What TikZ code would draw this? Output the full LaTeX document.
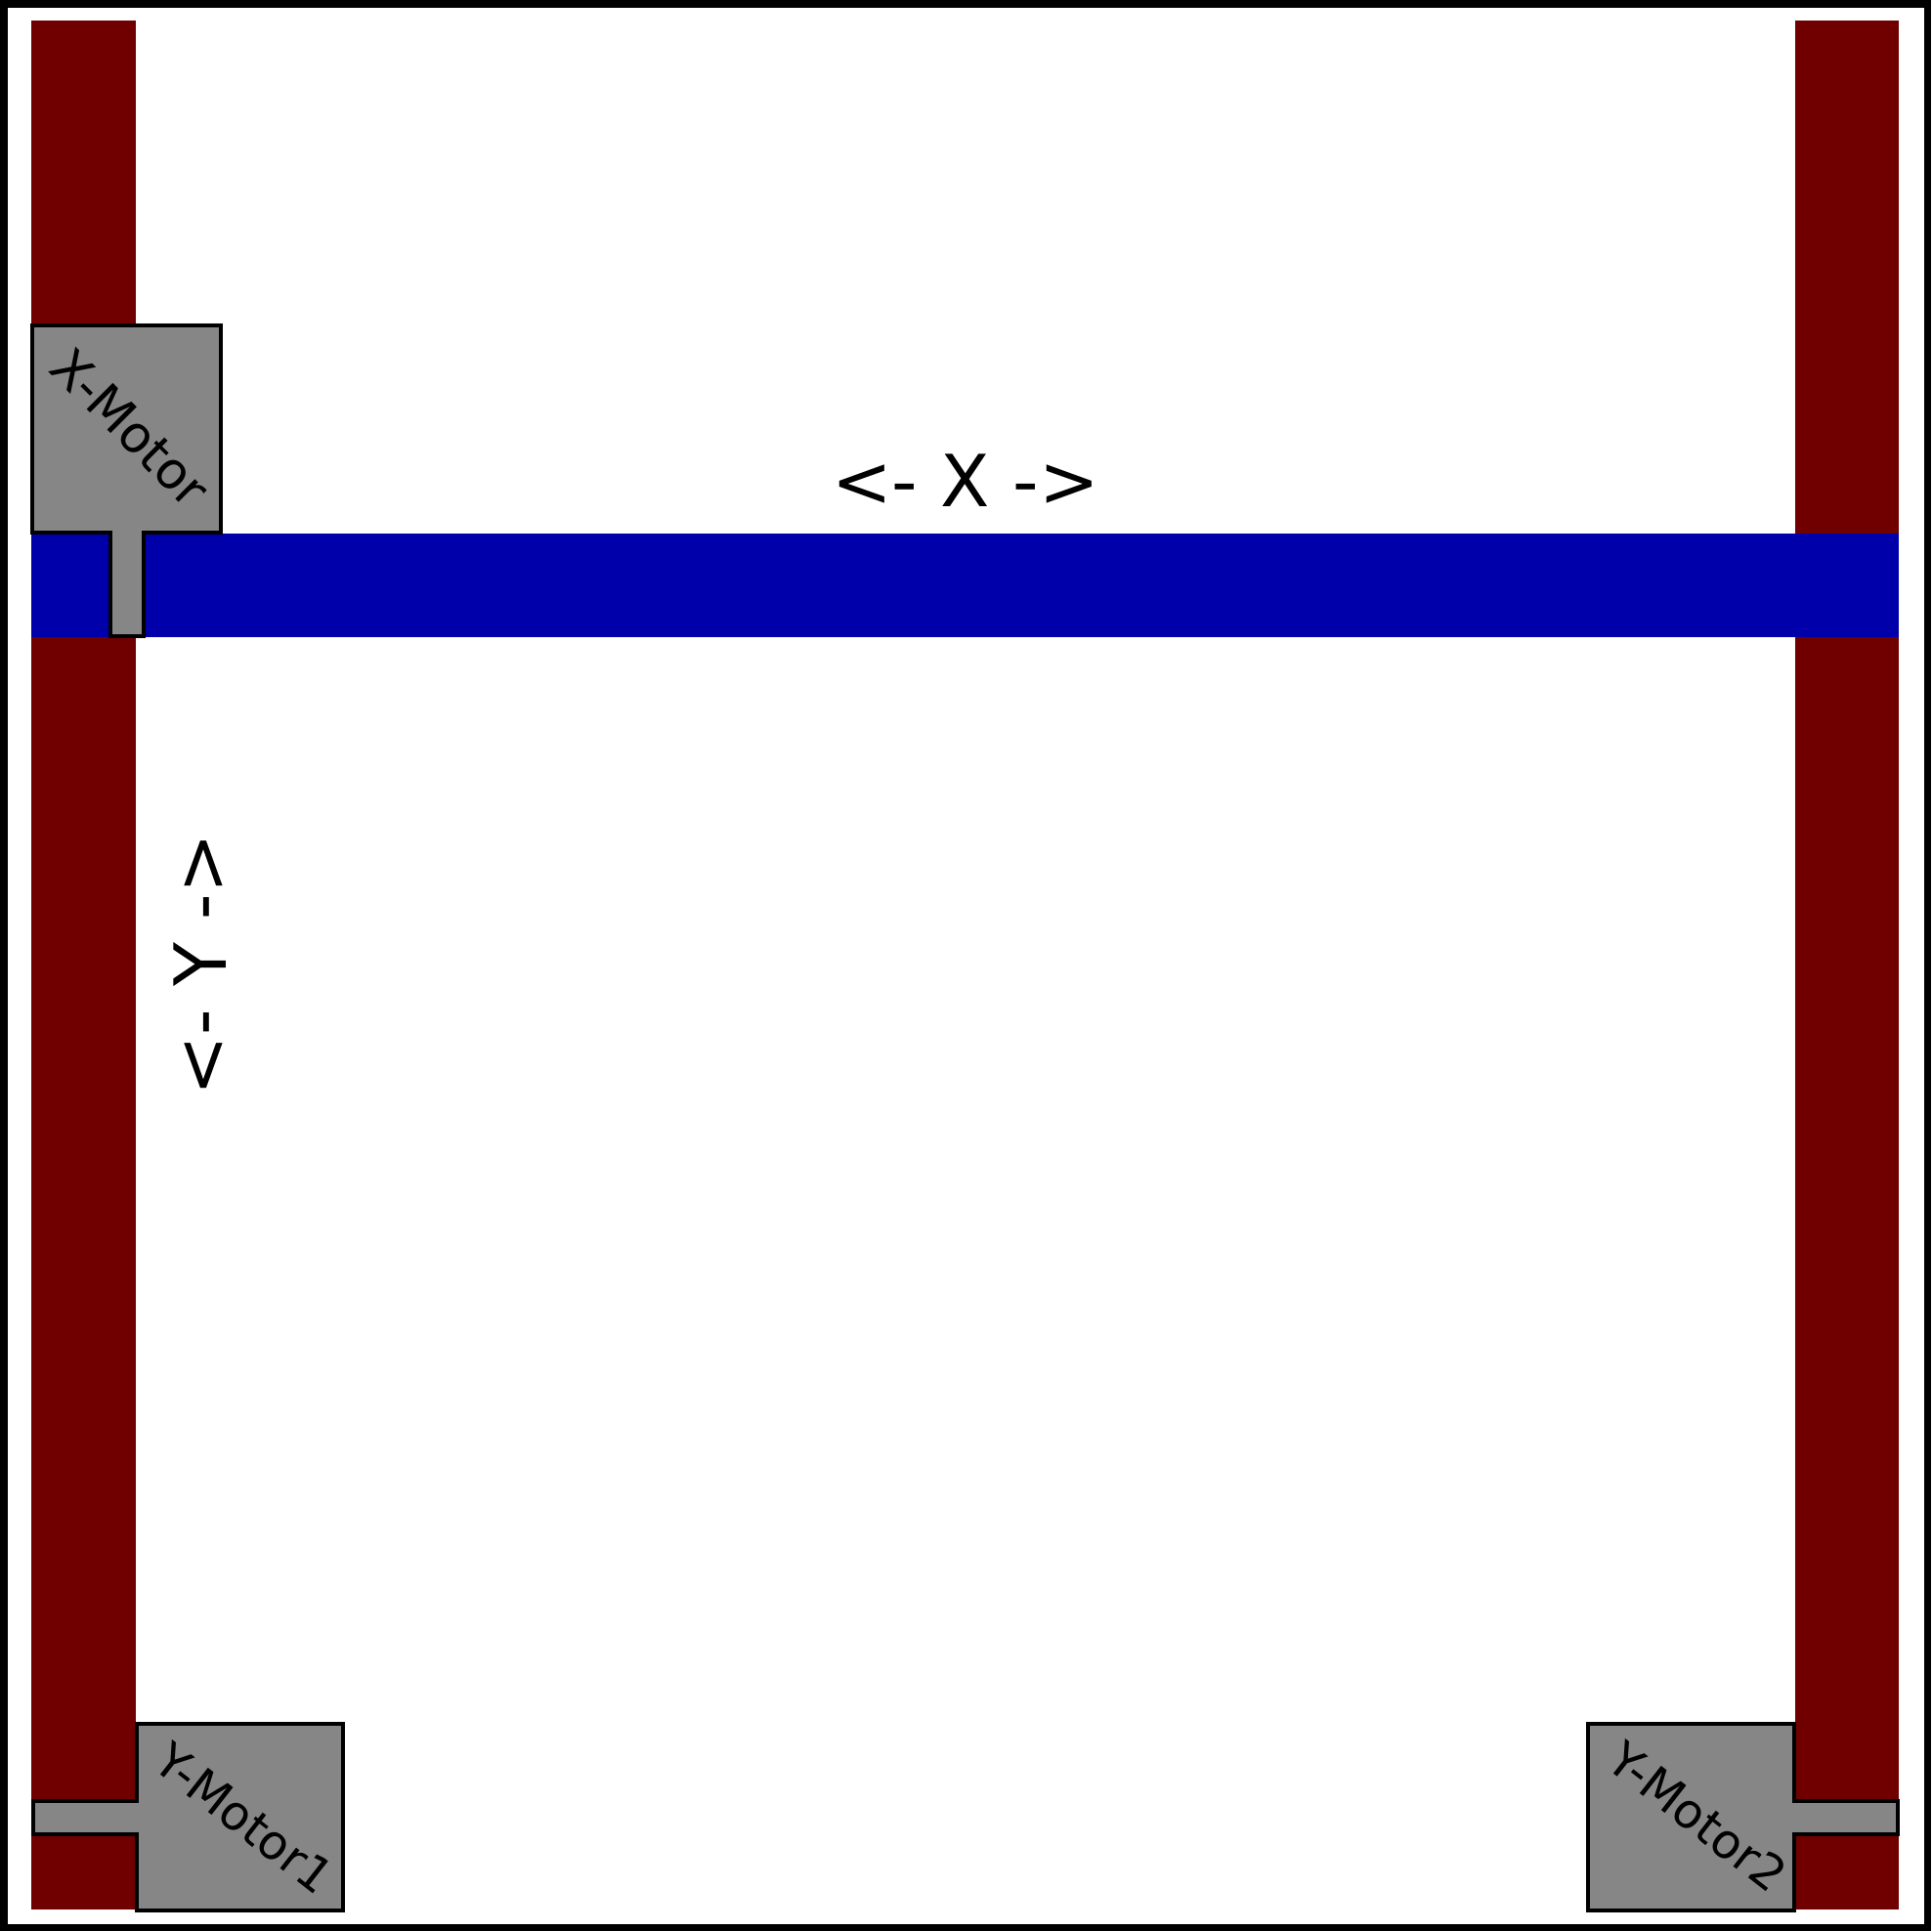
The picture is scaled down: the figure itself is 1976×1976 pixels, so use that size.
\documentclass[tikz,border=0pt]{standalone}
\usepackage{fontspec}
\setmainfont{DejaVu Sans}
\definecolor{rail}{HTML}{700000}
\definecolor{bar}{HTML}{0000AA}
\definecolor{motor}{HTML}{868686}
\begin{document}
\begin{tikzpicture}[x=0.5pt,y=-0.5pt,
  motorshape/.style={fill=motor,draw=black,line width=1.6pt,line join=miter},
  lbl/.style={inner sep=0pt,font=\fontsize{24.5}{24.5}\selectfont},
  big/.style={inner sep=0pt,font=\fontsize{36.8}{36.8}\selectfont}]
\useasboundingbox (0,0) rectangle (1976,1976);
\fill[white] (0,0) rectangle (1976,1976);
\draw[line width=3.75pt] (3.75,3.75) rectangle (1972.25,1972.25);
% rails
\fill[rail] (32,21) rectangle (139,1954);
\fill[rail] (1837,21) rectangle (1943,1954);
% gantry bar
\fill[bar] (32,546) rectangle (1943,652);
% motors
\draw[motorshape] (33,333) -- (226,333) -- (226,545) -- (147,545) -- (147,651) -- (113,651) -- (113,545) -- (33,545) -- cycle;
\draw[motorshape] (140,1764) -- (351,1764) -- (351,1955) -- (140,1955) -- (140,1877) -- (34,1877) -- (34,1843) -- (140,1843) -- cycle;
\draw[motorshape] (1625,1764) -- (1836,1764) -- (1836,1843) -- (1942,1843) -- (1942,1877) -- (1836,1877) -- (1836,1955) -- (1625,1955) -- cycle;
% labels
\node[lbl,rotate=-45,font=\fontsize{26}{26}\selectfont] (xm) at (133.5,437.5) {X-Motor};
\node[lbl,rotate=-38] (ym1) at (250,1861) {Y-Motor1};
\node[lbl,rotate=-38] (ym2) at (1737,1859) {Y-Motor2};
\node[big,anchor=base] (xl) at (988,518) {<- X ->};
\node[big,anchor=base,rotate=90] (yl) at (231,987) {<- Y ->};
\end{tikzpicture}
\end{document}
